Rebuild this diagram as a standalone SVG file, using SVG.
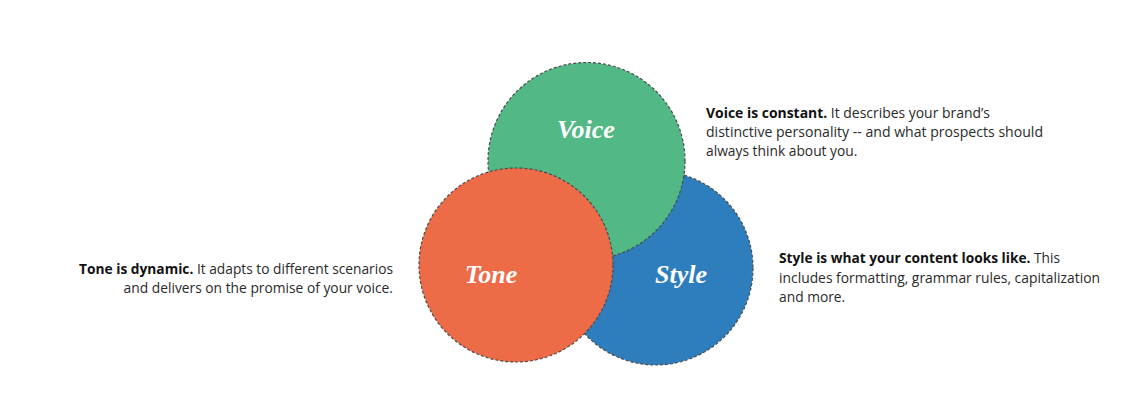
<svg xmlns="http://www.w3.org/2000/svg" width="1146" height="402" viewBox="0 0 1146 402">
<style>
.c{stroke:#4a4a4a;stroke-width:1.2;stroke-dasharray:3 2}
.lbl{font-family:"Liberation Serif","Times New Roman",serif;font-style:italic;font-weight:bold;font-size:26px;fill:#fff;text-anchor:middle}
.d{font-family:"Open Sans","Noto Sans",sans-serif;font-size:13.8px;fill:#2a2a2a}
.d tspan.b{font-weight:bold;fill:#111}
</style>
<rect width="1146" height="402" fill="#fff"/>
<g id="style-node">
<circle class="c" cx="656" cy="268" r="97" fill="#2e7ebd"/>
<text class="lbl" x="681" y="283">Style</text>
</g>
<g id="voice-node">
<circle class="c" cx="586.5" cy="161" r="98.5" fill="#52b886"/>
<text class="lbl" x="586" y="138">Voice</text>
</g>
<g id="tone-node">
<circle class="c" cx="516" cy="265" r="97" fill="#ee6b47"/>
<text class="lbl" x="491" y="283">Tone</text>
</g>
<g id="voice-desc">
<text class="d" x="706" y="118" textLength="284" lengthAdjust="spacingAndGlyphs"><tspan class="b">Voice is constant.</tspan> It describes your brand’s</text>
<text class="d" x="706" y="137" textLength="337" lengthAdjust="spacingAndGlyphs">distinctive personality -- and what prospects should</text>
<text class="d" x="706" y="156">always think about you.</text>
</g>
<g id="tone-desc">
<text class="d" x="79" y="274" textLength="314" lengthAdjust="spacingAndGlyphs"><tspan class="b">Tone is dynamic.</tspan> It adapts to different scenarios</text>
<text class="d" x="393" y="293" text-anchor="end">and delivers on the promise of your voice.</text>
</g>
<g id="style-desc">
<text class="d" x="779" y="263" textLength="281" lengthAdjust="spacingAndGlyphs"><tspan class="b">Style is what your content looks like.</tspan> This</text>
<text class="d" x="779" y="283" textLength="321" lengthAdjust="spacingAndGlyphs">includes formatting, grammar rules, capitalization</text>
<text class="d" x="779" y="302">and more.</text>
</g>
<g id="connectors"></g>
</svg>
